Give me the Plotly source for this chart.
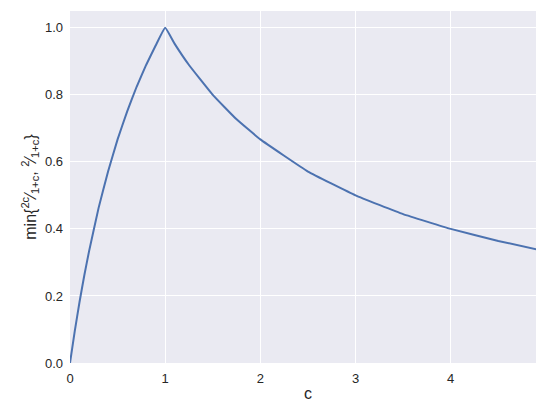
import plotly.graph_objects as go

# c values and min{2c/(1+c), 2/(1+c)}
c_vals = [0, 0.05, 0.1, 0.15, 0.2, 0.3, 0.4, 0.5, 0.6, 0.7, 0.8, 0.9, 1.0,
          1.1, 1.25, 1.5, 1.75, 2.0, 2.5, 3.0, 3.5, 4.0, 4.5, 5.0]
y_vals = [0, 0.095, 0.182, 0.261, 0.333, 0.462, 0.571, 0.667, 0.75, 0.824, 0.889, 0.947, 1.0,
          0.952, 0.889, 0.8, 0.727, 0.667, 0.571, 0.5, 0.444, 0.4, 0.364, 0.333]

fig = go.Figure()
fig.add_trace(go.Scatter(
    x=c_vals, y=y_vals, mode='lines',
    line=dict(color='#4C72B0', width=2, shape='spline', smoothing=0.3),
))

fig.update_layout(
    width=544, height=400,
    margin=dict(l=62, r=6, t=3, b=45, autoexpand=False),
    paper_bgcolor='white', plot_bgcolor='#EAEAF2',
    font=dict(family='Liberation Sans, Arial, sans-serif', size=13, color='#262626'),
    showlegend=False,
    xaxis=dict(range=[0, 5.001], tickvals=[0, 1, 2, 3, 4, 5], gridcolor='white', gridwidth=1.2,
               zeroline=False, showline=False, ticks='', ticklabelstandoff=6,
               title=dict(text='c', standoff=2)),
    yaxis=dict(range=[0, 1.05], tickvals=[0, 0.2, 0.4, 0.6, 0.8, 1.0], tickformat='.1f',
               gridcolor='white', gridwidth=1.2, zeroline=False, showline=False, ticks='',
               ticklabelstandoff=6,
               title=dict(text='min{<sup>2c</sup>⁄<sub>1+c</sub>, <sup>2</sup>⁄<sub>1+c</sub>}',
                          standoff=4)),
)

fig.write_html("out.html")
